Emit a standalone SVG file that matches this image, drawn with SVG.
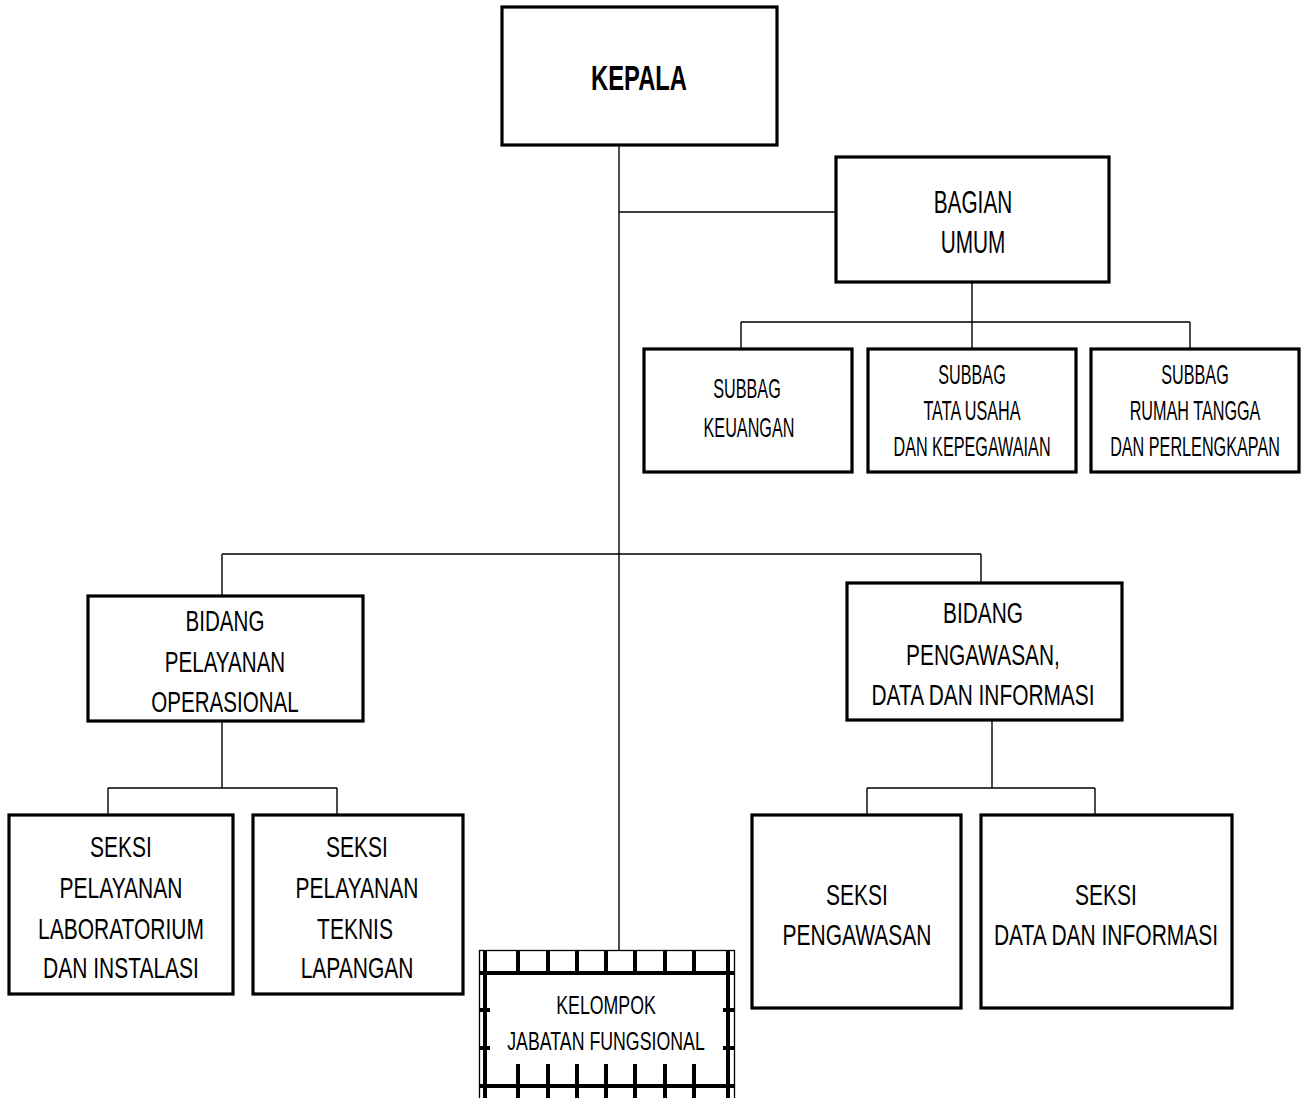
<svg xmlns="http://www.w3.org/2000/svg" width="1307" height="1098" viewBox="0 0 1307 1098">
<style>
.box{fill:#fff;stroke:#000;stroke-width:3.2}
.ln{stroke:#000;stroke-width:1.4;fill:none}
.tk{stroke:#000;stroke-width:4;fill:none}
.t{font-family:"Liberation Sans",Arial,sans-serif;text-anchor:middle;fill:#000}
.b{font-weight:bold}
</style>
<rect width="1307" height="1098" fill="#fff"/>
<g id="connectors">
<path class="ln" d="M619 145V950"/>
<path class="ln" d="M619 212H836"/>
<path class="ln" d="M972 283V349M741 322H1190M741 322V349M1190 322V349"/>
<path class="ln" d="M222 554H981M222 554V596M981 554V583"/>
<path class="ln" d="M222 721V788M108 788H337M108 788V815M337 788V815"/>
<path class="ln" d="M992 720V788M867 788H1095M867 788V815M1095 788V815"/>
</g>
<g id="kepala">
<rect class="box" x="502" y="7" width="275" height="138"/>
<text class="t b" font-size="35" transform="translate(639 90) scale(0.68 1)">KEPALA</text>
</g>
<g id="bagian-umum">
<rect class="box" x="836" y="157" width="273" height="125"/>
<text class="t" font-size="32" transform="translate(973 213) scale(0.65 1)">BAGIAN</text>
<text class="t" font-size="32" transform="translate(973 253) scale(0.65 1)">UMUM</text>
</g>
<g id="subbag-keuangan">
<rect class="box" x="644" y="349" width="208" height="123"/>
<text class="t" font-size="27" transform="translate(747 398) scale(0.6 1)">SUBBAG</text>
<text class="t" font-size="27" transform="translate(749 437) scale(0.6 1)">KEUANGAN</text>
</g>
<g id="subbag-tu">
<rect class="box" x="868" y="349" width="208" height="123"/>
<text class="t" font-size="27" transform="translate(972 384) scale(0.6 1)">SUBBAG</text>
<text class="t" font-size="27" transform="translate(972 420) scale(0.6 1)">TATA USAHA</text>
<text class="t" font-size="27" transform="translate(972 456) scale(0.6 1)">DAN KEPEGAWAIAN</text>
</g>
<g id="subbag-rt">
<rect class="box" x="1091" y="349" width="208" height="123"/>
<text class="t" font-size="27" transform="translate(1195 384) scale(0.6 1)">SUBBAG</text>
<text class="t" font-size="27" transform="translate(1195 420) scale(0.6 1)">RUMAH TANGGA</text>
<text class="t" font-size="27" transform="translate(1195 456) scale(0.6 1)">DAN PERLENGKAPAN</text>
</g>
<g id="bidang-pelayanan">
<rect class="box" x="88" y="596" width="275" height="125"/>
<text class="t" font-size="29" transform="translate(225 631) scale(0.71 1)">BIDANG</text>
<text class="t" font-size="29" transform="translate(225 672) scale(0.71 1)">PELAYANAN</text>
<text class="t" font-size="29" transform="translate(225 712) scale(0.71 1)">OPERASIONAL</text>
</g>
<g id="bidang-pengawasan">
<rect class="box" x="847" y="583" width="275" height="137"/>
<text class="t" font-size="29" transform="translate(983 623) scale(0.72 1)">BIDANG</text>
<text class="t" font-size="29" transform="translate(983 665) scale(0.72 1)">PENGAWASAN,</text>
<text class="t" font-size="29" transform="translate(983 705) scale(0.72 1)">DATA DAN INFORMASI</text>
</g>
<g id="seksi-lab">
<rect class="box" x="9" y="815" width="224" height="179"/>
<text class="t" font-size="30" transform="translate(121 857) scale(0.7 1)">SEKSI</text>
<text class="t" font-size="30" transform="translate(121 898) scale(0.7 1)">PELAYANAN</text>
<text class="t" font-size="30" transform="translate(121 939) scale(0.7 1)">LABORATORIUM</text>
<text class="t" font-size="30" transform="translate(121 978) scale(0.7 1)">DAN INSTALASI</text>
</g>
<g id="seksi-teknis">
<rect class="box" x="253" y="815" width="210" height="179"/>
<text class="t" font-size="30" transform="translate(357 857) scale(0.7 1)">SEKSI</text>
<text class="t" font-size="30" transform="translate(357 898) scale(0.7 1)">PELAYANAN</text>
<text class="t" font-size="30" transform="translate(355 939) scale(0.7 1)">TEKNIS</text>
<text class="t" font-size="30" transform="translate(357 978) scale(0.7 1)">LAPANGAN</text>
</g>
<g id="seksi-pengawasan">
<rect class="box" x="752" y="815" width="209" height="193"/>
<text class="t" font-size="30" transform="translate(857 905) scale(0.7 1)">SEKSI</text>
<text class="t" font-size="30" transform="translate(857 945) scale(0.7 1)">PENGAWASAN</text>
</g>
<g id="seksi-data">
<rect class="box" x="981" y="815" width="251" height="193"/>
<text class="t" font-size="30" transform="translate(1106 905) scale(0.7 1)">SEKSI</text>
<text class="t" font-size="30" transform="translate(1106 945) scale(0.7 1)">DATA DAN INFORMASI</text>
</g>
<g id="kelompok-jabatan-fungsional">
<rect x="479.5" y="950.5" width="255" height="160" fill="#fff" stroke="#000" stroke-width="1.3"/>
<path class="tk" d="M485 950V1110M728 950V1110M479 973H734M479 1086H734"/>
<path class="tk" d="M518 950V975M548 950V975M577 950V975M606 950V975M635 950V975M665 950V975M694 950V975"/>
<path class="tk" d="M518 1064V1100M548 1064V1100M577 1064V1100M606 1064V1100M635 1064V1100M665 1064V1100M694 1064V1100"/>
<path class="tk" d="M479 1010H490M479 1048H490M723 1010H734M723 1048H734"/>
<text class="t" font-size="25" transform="translate(606 1014) scale(0.71 1)">KELOMPOK</text>
<text class="t" font-size="25" transform="translate(606 1050) scale(0.71 1)">JABATAN FUNGSIONAL</text>
</g>
</svg>
